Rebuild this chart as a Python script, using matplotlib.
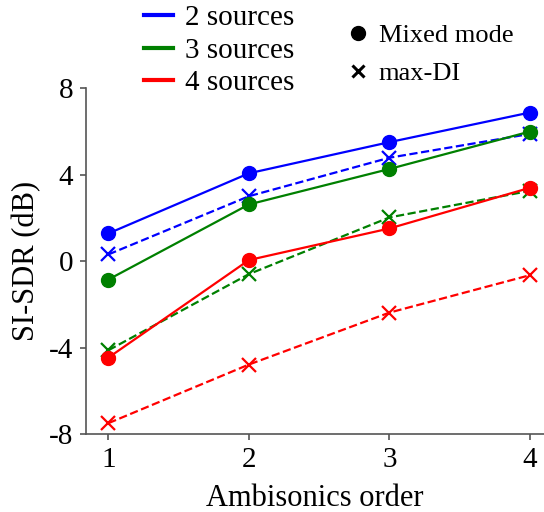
import matplotlib
matplotlib.use("Agg")
import matplotlib.pyplot as plt
from matplotlib.lines import Line2D

orders = [1, 2, 3, 4]
mixed_2 = [1.28, 4.06, 5.50, 6.87]
maxdi_2 = [0.31, 3.00, 4.78, 5.88]
mixed_3 = [-0.85, 2.62, 4.26, 5.99]
maxdi_3 = [-4.12, -0.60, 2.02, 3.25]
mixed_4 = [-4.46, 0.05, 1.51, 3.39]
maxdi_4 = [-7.49, -4.78, -2.38, -0.65]
yticks = [-8, -4, 0, 4, 8]

plt.rcParams['font.family'] = ['Liberation Serif', 'DejaVu Serif']
plt.rcParams['font.size'] = 21
plt.rcParams['axes.unicode_minus'] = False

fig = plt.figure(figsize=(5.44, 5.12), dpi=100)
ax = fig.add_axes([0.158, 0.152, 0.842, 0.676])

series = [(mixed_2, maxdi_2, 'blue'), (mixed_3, maxdi_3, 'green'), (mixed_4, maxdi_4, 'red')]
for mixed, maxdi, c in series:
    ax.plot(orders, mixed, '-', color=c, lw=1.6, marker='o', ms=10)
    ax.plot(orders, maxdi, '--', color=c, lw=1.6, marker='x', ms=10, mew=1.6)

ax.set_xlim(0.84, 4.1)
ax.set_ylim(-8, 8)
ax.set_xticks(orders)
ax.set_yticks(yticks)
ax.set_xlabel('Ambisonics order', fontsize=22, labelpad=8)
ax.set_ylabel('SI-SDR (dB)', fontsize=22, labelpad=6)
for s in ['top', 'right']:
    ax.spines[s].set_visible(False)
for s in ['left', 'bottom']:
    ax.spines[s].set_color('#555555')
    ax.spines[s].set_linewidth(1.2)
ax.tick_params(direction='out', length=4, color='#555555', width=1.2, labelsize=21, pad=5)

h1 = [Line2D([], [], color=c, lw=3) for c in ['blue', 'green', 'red']]
leg1 = fig.legend(h1, ['2 sources', '3 sources', '4 sources'], loc='upper left',
                  bbox_to_anchor=(0.227, 1.03), frameon=False, handlelength=1.0,
                  handletextpad=0.4, labelspacing=0.2, borderpad=0.2, fontsize=21)
h2 = [Line2D([], [], color='black', ls='none', marker='o', ms=10),
      Line2D([], [], color='black', ls='none', marker='x', ms=9, mew=2.2)]
leg2 = fig.legend(h2, ['Mixed mode', 'max-DI'], loc='upper left',
                  bbox_to_anchor=(0.604, 0.99), frameon=False, handlelength=0.8,
                  handletextpad=0.4, labelspacing=0.55, borderpad=0.2, fontsize=19)

fig.savefig('out.png', dpi=100)
